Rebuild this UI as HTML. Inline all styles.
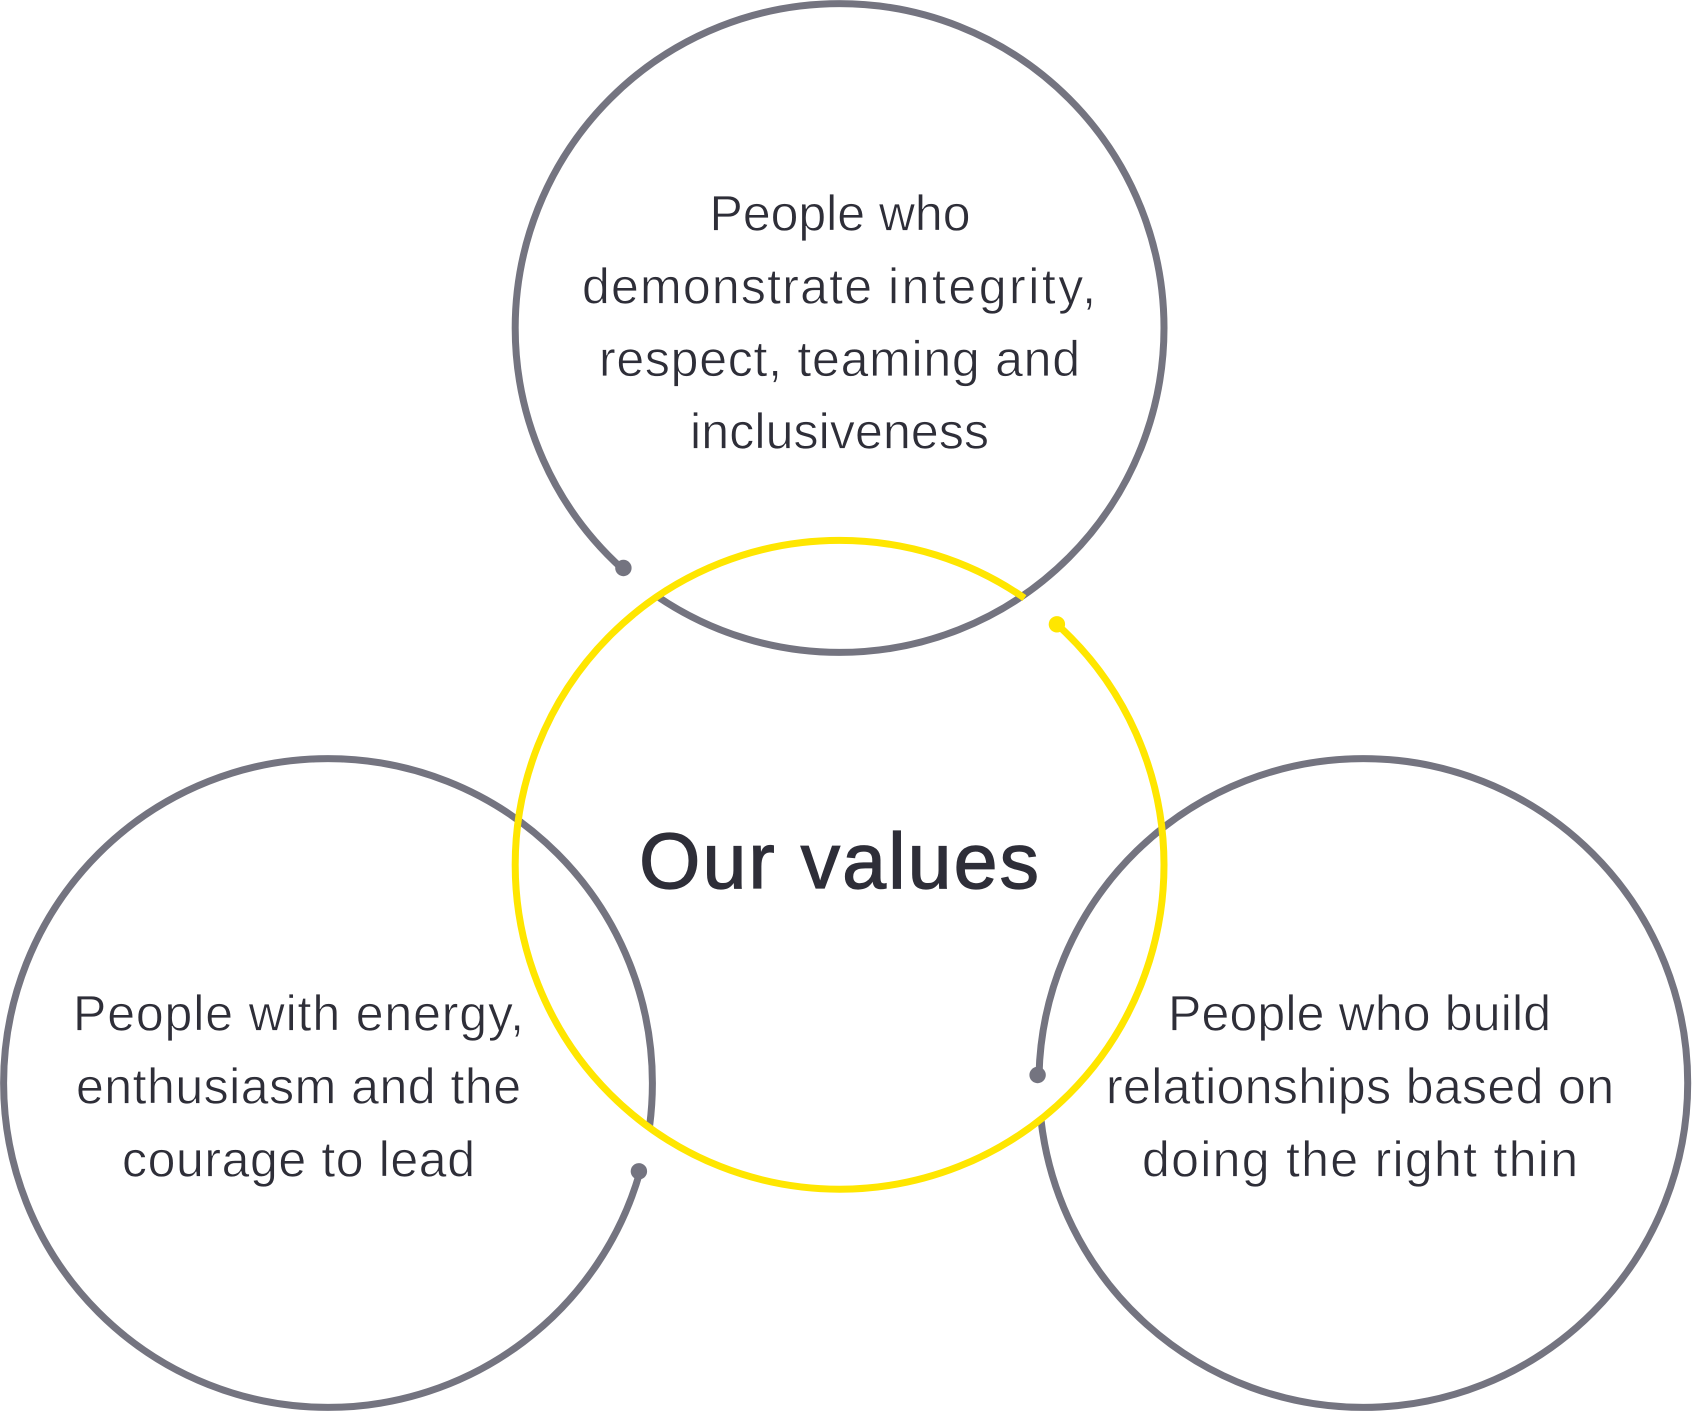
<!DOCTYPE html>
<html><head><meta charset="utf-8"><style>
html,body{margin:0;padding:0;background:#fff;width:1692px;height:1411px;overflow:hidden}
svg{display:block}
text{font-family:"Liberation Sans",sans-serif;fill:#2e2e38}
.b{font-size:50px;stroke:#fff;stroke-width:.7px}
.h{font-size:79px;stroke:#2e2e38;stroke-width:1.2px}
</style></head><body>
<svg width="1692" height="1411" viewBox="0 0 1692 1411" xmlns="http://www.w3.org/2000/svg">
<g fill="none" stroke="#747480" stroke-width="7">
<path d="M622.5 569A324.4 324.4 0 0 1 515.2 328A324.4 324.4 0 0 1 839.6 3.6A324.4 324.4 0 0 1 1164 328A324.4 324.4 0 0 1 839.6 652.4A324.4 324.4 0 0 1 657.6 596.6"/>
<path d="M640 1171.6A324.4 324.4 0 0 1 328 1407.4A324.4 324.4 0 0 1 3.6 1083A324.4 324.4 0 0 1 328 758.6A324.4 324.4 0 0 1 652.4 1083A324.4 324.4 0 0 1 649.6 1126"/>
<path d="M1039 1075A324.4 324.4 0 0 1 1363.3 758.6A324.4 324.4 0 0 1 1687.7 1083A324.4 324.4 0 0 1 1363.3 1407.4A324.4 324.4 0 0 1 1040.8 1118.3"/>
</g>
<g fill="#747480">
<circle cx="623.4" cy="568" r="8.2"/>
<circle cx="638.9" cy="1171.3" r="8.2"/>
<circle cx="1037.6" cy="1075" r="8.2"/>
</g>
<path d="M1056.9 624.3A324.4 324.4 0 0 1 1164 864.8A324.4 324.4 0 0 1 839.6 1189.2A324.4 324.4 0 0 1 515.2 864.8A324.4 324.4 0 0 1 839.6 540.4A324.4 324.4 0 0 1 1024.4 598.1" fill="none" stroke="#ffe600" stroke-width="7"/>
<circle cx="1056.9" cy="624.3" r="8.2" fill="#ffe600"/>
<text class="b" x="709.5" y="230.5" textLength="261" lengthAdjust="spacing">People who</text>
<text class="b" x="582" y="303.5" textLength="290" lengthAdjust="spacing">demonstrate</text>
<text class="b" x="888" y="303.5" textLength="208" lengthAdjust="spacing">integrity,</text>
<text class="b" x="599" y="376" textLength="481" lengthAdjust="spacing">respect, teaming and</text>
<text class="b" x="690" y="448.5" textLength="299" lengthAdjust="spacing">inclusiveness</text>
<text class="b" x="73" y="1030.5" textLength="451" lengthAdjust="spacing">People with energy,</text>
<text class="b" x="76" y="1103.5" textLength="445" lengthAdjust="spacing">enthusiasm and the</text>
<text class="b" x="122" y="1176.5" textLength="353" lengthAdjust="spacing">courage to lead</text>
<text class="b" x="1168" y="1030.5" textLength="383" lengthAdjust="spacing">People who build</text>
<text class="b" x="1106" y="1103.5" textLength="508" lengthAdjust="spacing">relationships based on</text>
<text class="b" x="1142" y="1176.5" textLength="436" lengthAdjust="spacing">doing the right thin</text>
<text class="h" x="639" y="888" textLength="400" lengthAdjust="spacing">Our values</text>
</svg>
</body></html>
